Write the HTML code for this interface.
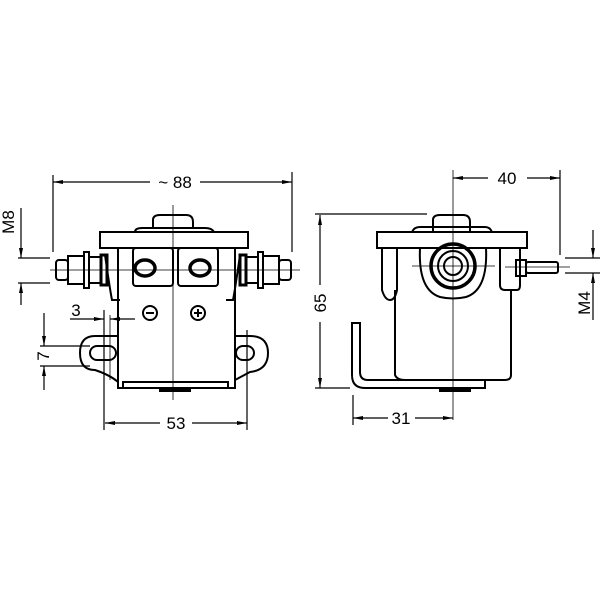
<!DOCTYPE html>
<html><head><style>body{margin:0;background:#fff}svg{display:block}</style></head><body>
<svg width="600" height="600" viewBox="0 0 600 600" xmlns="http://www.w3.org/2000/svg" font-family="Liberation Sans, sans-serif" font-size="17" fill="none" stroke="#000" stroke-width="2">
<defs><marker id="a" markerWidth="10" markerHeight="6" refX="10" refY="3" orient="auto-start-reverse" markerUnits="userSpaceOnUse"><path d="M0,1 L10,3 L0,5Z" fill="#000" stroke="none"/></marker></defs>
<!-- LEFT VIEW -->
<line x1="53" y1="175" x2="53" y2="252" stroke-width="1.2"/>
<line x1="292" y1="172" x2="292" y2="252" stroke-width="1.2"/>
<line x1="53" y1="182" x2="150" y2="182" stroke-width="1.2" marker-start="url(#a)"/>
<line x1="200" y1="182" x2="292" y2="182" stroke-width="1.2" marker-end="url(#a)"/>
<text x="175" y="188" text-anchor="middle" fill="#000" stroke="none">~ 88</text>
<path d="M153 228 V220 Q153 215 160 215 H186 Q193 215 193 222 V228"/>
<path d="M135 232 Q135 228 142 228 H205 Q212 228 214 232"/>
<rect x="100" y="232" width="148" height="16"/>
<path d="M118 248 V388 H235 V248"/>
<path d="M105 255 Q110 290 112 300 H120 M240 255 Q235 290 233 300 H226"/>
<rect x="133" y="248" width="40" height="38" rx="3"/>
<rect x="178" y="248" width="40" height="38" rx="3"/>
<ellipse cx="145" cy="268" rx="10" ry="8" stroke-width="3.5"/>
<ellipse cx="200" cy="268" rx="10" ry="8" stroke-width="3.5"/>
<rect x="56" y="260" width="12" height="20" rx="3"/><rect x="68" y="256" width="16" height="28"/><rect x="84" y="252" width="5" height="36"/><rect x="89" y="257" width="12" height="26"/><rect x="101" y="255" width="6" height="30" stroke-width="3"/>
<rect x="240" y="255" width="6" height="30" stroke-width="3"/><rect x="246" y="257" width="12" height="26"/><rect x="258" y="252" width="5" height="36"/><rect x="263" y="256" width="16" height="28"/><rect x="279" y="260" width="12" height="20" rx="3"/>
<line x1="50" y1="270" x2="300" y2="270" stroke-width="0.8"/>
<line x1="173" y1="205" x2="173" y2="400" stroke-width="0.8"/>
<circle cx="150" cy="313" r="7"/><line x1="146" y1="313" x2="154" y2="313"/>
<circle cx="198" cy="313" r="7"/><line x1="194" y1="313" x2="202" y2="313"/><line x1="198" y1="309" x2="198" y2="317"/>
<path d="M118 336 H95 Q80 336 80 353 Q80 370 95 370 Q110 375 118 382"/>
<rect x="90" y="346" width="26" height="14" rx="7"/>
<path d="M235 336 H250 Q268 336 268 353 Q268 370 250 372 L235 380"/>
<rect x="236" y="346" width="18" height="14" rx="7"/>
<rect x="123" y="382" width="105" height="6"/>
<rect x="160" y="388" width="30" height="3" fill="#000"/>
<line x1="104" y1="310" x2="104" y2="430" stroke-width="1.2"/>
<line x1="110" y1="315" x2="110" y2="380" stroke-width="0.8"/>
<line x1="247" y1="330" x2="247" y2="430" stroke-width="1.2"/>
<line x1="105" y1="423" x2="160" y2="423" stroke-width="1.2" marker-start="url(#a)"/>
<line x1="192" y1="423" x2="247" y2="423" stroke-width="1.2" marker-end="url(#a)"/>
<text x="176" y="429" text-anchor="middle" fill="#000" stroke="none">53</text>
<line x1="70" y1="319" x2="104" y2="319" stroke-width="1.2" marker-end="url(#a)"/>
<line x1="135" y1="319" x2="110" y2="319" stroke-width="1.2" marker-end="url(#a)"/>
<text x="76" y="316" text-anchor="middle" fill="#000" stroke="none">3</text>
<line x1="40" y1="346" x2="90" y2="346" stroke-width="1.2"/>
<line x1="40" y1="366" x2="90" y2="366" stroke-width="1.2"/>
<line x1="44" y1="313" x2="44" y2="346" stroke-width="1.2" marker-end="url(#a)"/>
<line x1="44" y1="390" x2="44" y2="366" stroke-width="1.2" marker-end="url(#a)"/>
<text transform="translate(49,356) rotate(-90)" text-anchor="middle" fill="#000" stroke="none">7</text>
<line x1="18" y1="258" x2="50" y2="258" stroke-width="1.2"/>
<line x1="18" y1="283" x2="50" y2="283" stroke-width="1.2"/>
<line x1="21" y1="208" x2="21" y2="258" stroke-width="1.2" marker-end="url(#a)"/>
<line x1="21" y1="305" x2="21" y2="283" stroke-width="1.2" marker-end="url(#a)"/>
<text transform="translate(14,222) rotate(-90)" text-anchor="middle" fill="#000" stroke="none">M8</text>
<!-- RIGHT VIEW -->
<line x1="453" y1="170" x2="453" y2="420" stroke-width="0.8"/>
<line x1="560" y1="170" x2="560" y2="255" stroke-width="1.2"/>
<line x1="453" y1="178" x2="488" y2="178" stroke-width="1.2" marker-start="url(#a)"/>
<line x1="527" y1="178" x2="560" y2="178" stroke-width="1.2" marker-end="url(#a)"/>
<text x="507" y="184" text-anchor="middle" fill="#000" stroke="none">40</text>
<line x1="315" y1="214" x2="427" y2="214" stroke-width="1.2"/>
<line x1="315" y1="388" x2="350" y2="388" stroke-width="1.2"/>
<line x1="320" y1="215" x2="320" y2="285" stroke-width="1.2" marker-start="url(#a)"/>
<line x1="320" y1="322" x2="320" y2="388" stroke-width="1.2" marker-end="url(#a)"/>
<text transform="translate(326,303) rotate(-90)" text-anchor="middle" fill="#000" stroke="none">65</text>
<path d="M433 231 V220 Q433 215 440 215 H463 Q470 215 470 222 V231"/>
<path d="M412 232 Q414 227 420 227 H485 Q490 227 492 232"/>
<rect x="377" y="232" width="150" height="16"/>
<path d="M382 248 V290 Q385 300 390 300 Q395 300 397 290 V248"/>
<path d="M395 290 V375 Q397 380 405 380 H505 Q511 380 511 375 V290"/>
<path d="M500 248 V285 Q500 290 505 290 H517 Q520 290 520 285 V248"/>
<path d="M420 248 Q418 290 440 297 Q453 300 466 297 Q488 290 486 248"/>
<circle cx="453" cy="266" r="22" stroke-width="3.5"/>
<circle cx="453" cy="266" r="15"/>
<circle cx="453" cy="266" r="9"/>
<line x1="412" y1="266" x2="495" y2="266" stroke-width="0.8"/>
<rect x="516" y="260" width="10" height="16"/>
<rect x="526" y="262" width="32" height="11" rx="2"/>
<line x1="505" y1="267" x2="570" y2="267" stroke-width="0.8"/>
<path d="M352 323 V375 Q352 388 365 388 H485 V380 H368 Q360 380 360 372 V323 Z"/>
<rect x="440" y="388" width="30" height="3" fill="#000"/>
<line x1="353" y1="395" x2="353" y2="425" stroke-width="1.2"/>
<line x1="353" y1="418" x2="388" y2="418" stroke-width="1.2" marker-start="url(#a)"/>
<line x1="415" y1="418" x2="453" y2="418" stroke-width="1.2" marker-end="url(#a)"/>
<text x="401" y="424" text-anchor="middle" fill="#000" stroke="none">31</text>
<line x1="565" y1="258" x2="600" y2="258" stroke-width="1.2"/>
<line x1="565" y1="273" x2="600" y2="273" stroke-width="1.2"/>
<line x1="593" y1="230" x2="593" y2="258" stroke-width="1.2" marker-end="url(#a)"/>
<line x1="593" y1="320" x2="593" y2="273" stroke-width="1.2" marker-end="url(#a)"/>
<text transform="translate(590,303) rotate(-90)" text-anchor="middle" fill="#000" stroke="none">M4</text>
</svg>
</body></html>
